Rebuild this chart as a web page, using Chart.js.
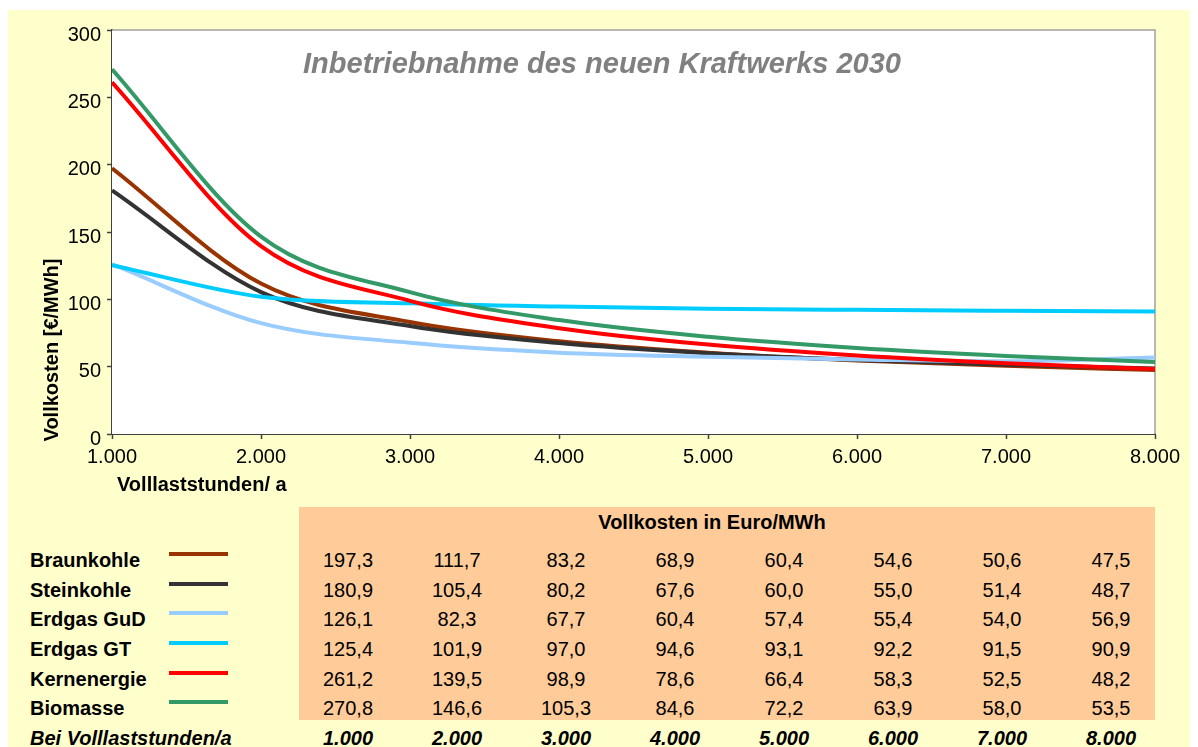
<!DOCTYPE html>
<html lang="de">
  <head>
    <title>Vollkosten Kraftwerke 2030</title>
    <meta charset="utf-8" />
    <script src="https://cdn.jsdelivr.net/npm/chart.js"></script>
    <style>
      body {
        margin: 0;
        background: #fff;
        font-family: "Liberation Sans", Arial, sans-serif;
      }
      .bg {
        position: absolute;
        left: 8px;
        top: 10px;
        width: 1182px;
        height: 737px;
        background: #ffffcc;
      }
      .peach {
        position: absolute;
        left: 299px;
        top: 507px;
        width: 856px;
        height: 213px;
        background: #ffcc99;
      }
      #chart {
        position: absolute;
        left: 0;
        top: 0;
      }
      .head {
        position: absolute;
        left: 512px;
        top: 511px;
        width: 400px;
        text-align: center;
        font-weight: bold;
        font-size: 20px;
      }
      .row {
        position: absolute;
        left: 0;
        height: 30px;
        line-height: 30px;
        font-size: 20px;
        white-space: nowrap;
      }
      .row .name {
        position: absolute;
        left: 30px;
        font-weight: bold;
      }
      .row .sample {
        position: absolute;
        left: 169px;
        width: 59px;
        height: 4px;
        top: 7px;
      }
      .row .val {
        position: absolute;
        width: 109px;
        text-align: center;
      }
      .row.foot {
        font-weight: bold;
        font-style: italic;
      }
    </style>
  </head>
  <body>
    <div class="bg"></div>
    <div class="peach"></div>
    <canvas id="chart" width="1198" height="500"></canvas>
    <div class="head">Vollkosten in Euro/MWh</div>
    <div id="tabelle"></div>

    <script>
      // Daten
      const stunden = [1000, 2000, 3000, 4000, 5000, 6000, 7000, 8000];
      const stundenLabels = ["1.000", "2.000", "3.000", "4.000", "5.000", "6.000", "7.000", "8.000"];
      const namen = ["Braunkohle", "Steinkohle", "Erdgas GuD", "Erdgas GT", "Kernenergie", "Biomasse"];
      const farben = ["#993300", "#333333", "#99ccff", "#00ccff", "#ff0000", "#339966"];
      const braunkohle = [197.3, 111.7, 83.2, 68.9, 60.4, 54.6, 50.6, 47.5];
      const steinkohle = [180.9, 105.4, 80.2, 67.6, 60.0, 55.0, 51.4, 48.7];
      const erdgasGuD = [126.1, 82.3, 67.7, 60.4, 57.4, 55.4, 54.0, 56.9];
      const erdgasGT = [125.4, 101.9, 97.0, 94.6, 93.1, 92.2, 91.5, 90.9];
      const kernenergie = [261.2, 139.5, 98.9, 78.6, 66.4, 58.3, 52.5, 48.2];
      const biomasse = [270.8, 146.6, 105.3, 84.6, 72.2, 63.9, 58.0, 53.5];
      const reihen = [braunkohle, steinkohle, erdgasGuD, erdgasGT, kernenergie, biomasse];

      const datasets = reihen.map((werte, i) => ({
        label: namen[i],
        data: werte.map((y, j) => ({ x: stunden[j], y: y })),
        borderColor: farben[i],
        borderWidth: 4,
        pointRadius: 0,
        cubicInterpolationMode: "monotone",
        order: reihen.length - i,
      }));

      // Titel, Achsentitel, Rahmen
      const extras = {
        id: "extras",
        beforeDatasetsDraw(chart) {
          const { ctx, chartArea: a } = chart;
          ctx.save();
          ctx.fillStyle = "#fff";
          ctx.fillRect(a.left, a.top, a.right - a.left, a.bottom - a.top);
          ctx.strokeStyle = "#a0a0a0";
          ctx.lineWidth = 1.5;
          ctx.beginPath();
          ctx.moveTo(a.left, a.top);
          ctx.lineTo(a.right, a.top);
          ctx.lineTo(a.right, a.bottom);
          ctx.stroke();
          ctx.restore();
        },
        afterDraw(chart) {
          const ctx = chart.ctx;
          ctx.save();
          ctx.fillStyle = "#808080";
          ctx.font = "italic bold 29px 'Liberation Sans', Arial";
          ctx.textAlign = "center";
          ctx.textBaseline = "middle";
          ctx.fillText("Inbetriebnahme des neuen Kraftwerks 2030", 602, 65);
          ctx.fillStyle = "#000";
          ctx.font = "bold 20px 'Liberation Sans', Arial";
          ctx.textAlign = "left";
          ctx.fillText("Volllaststunden/ a", 117, 485);
          ctx.translate(52, 350);
          ctx.rotate(-Math.PI / 2);
          ctx.textAlign = "center";
          ctx.fillText("Vollkosten [€/MWh]", 0, 0);
          ctx.restore();
        },
      };

      new Chart(document.getElementById("chart"), {
        type: "line",
        data: { datasets: datasets },
        options: {
          responsive: false,
          animation: false,
          layout: { padding: { top: 30, right: 43, left: 0, bottom: 0 } },
          plugins: { legend: { display: false }, tooltip: { enabled: false } },
          scales: {
            x: {
              type: "linear",
              min: 1000,
              max: 8000,
              afterFit: (s) => { s.height = 66; },
              afterBuildTicks: (s) => { s.ticks = stunden.map((v) => ({ value: v })); },
              ticks: {
                color: "#000",
                font: { family: "'Liberation Sans', Arial", size: 20 },
                padding: 6,
                maxRotation: 0,
                callback: (v) => stundenLabels[stunden.indexOf(v)],
              },
              grid: { drawOnChartArea: false, tickLength: 5, tickColor: "#404040", tickWidth: 1.5 },
              border: { color: "#404040", width: 2 },
            },
            y: {
              min: 0,
              max: 300,
              afterFit: (s) => { s.width = 112; },
              ticks: {
                stepSize: 50,
                color: "#000",
                font: { family: "'Liberation Sans', Arial", size: 20 },
                padding: 6,
                labelOffset: 5,
              },
              grid: { drawOnChartArea: false, tickLength: 5, tickColor: "#404040", tickWidth: 1.5 },
              border: { color: "#404040", width: 2 },
            },
          },
        },
        plugins: [extras],
      });

      // Tabelle unter dem Diagramm
      const tabelle = document.getElementById("tabelle");
      const zeilenY = [545, 575, 604, 634, 664, 693];
      const fmt = (v) => v.toFixed(1).replace(".", ",");
      reihen.forEach((werte, i) => {
        let html = `<span class="name">${namen[i]}</span><span class="sample" style="background:${farben[i]}"></span>`;
        werte.forEach((v, j) => {
          html += `<span class="val" style="left:${293.5 + 109 * j}px">${fmt(v)}</span>`;
        });
        tabelle.insertAdjacentHTML("beforeend", `<div class="row" style="top:${zeilenY[i]}px">${html}</div>`);
      });
      let fuss = `<span class="name">Bei Volllaststunden/a</span>`;
      stundenLabels.forEach((l, j) => {
        fuss += `<span class="val" style="left:${293.5 + 109 * j}px">${l}</span>`;
      });
      tabelle.insertAdjacentHTML("beforeend", `<div class="row foot" style="top:723px">${fuss}</div>`);
    </script>
  </body>
</html>
